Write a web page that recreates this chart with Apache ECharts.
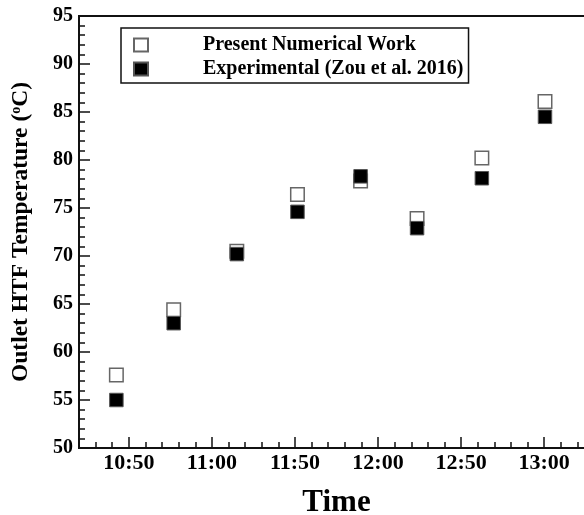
<!DOCTYPE html>
<html><head><meta charset="utf-8">
<script src="https://cdn.jsdelivr.net/npm/echarts@6/dist/echarts.min.js"></script>
<style>html,body{margin:0;padding:0;background:#fff}#c{width:584px;height:515px}</style>
</head><body><div id="c"></div>
<script>
// Tick labels of the time axis (major ticks at positions 1..6)
var timeLabels = ['10:50', '11:00', '11:50', '12:00', '12:50', '13:00'];
// Horizontal position of each measurement, in units of the major tick index
var xPositions = [0.85, 1.54, 2.30, 3.03, 3.79, 4.47, 5.25, 6.01];
// Outlet HTF temperature (°C)
var numerical = [57.6, 64.4, 70.5, 76.4, 77.8, 73.9, 80.2, 86.1];
var experimental = [55.0, 63.0, 70.2, 74.6, 78.3, 72.9, 78.1, 84.5];
var seriesNames = ['Present Numerical Work', 'Experimental (Zou et al. 2016)'];

var FONT = '"Liberation Serif", "Times New Roman", serif';
var AX = '#111';
var xMin = 0.4, xMax = 6.6;
var GW = 515, GH = 432;
var majorVals = timeLabels.map(function (_, i) { return i + 1; });
var minorVals = [];
for (var k = 0; k <= 31; k++) minorVals.push(+(xMin + k * 0.2).toFixed(2));

function pairs(xs, ys) { return xs.map(function (x, i) { return [x, ys[i]]; }); }

var chart = echarts.init(document.getElementById('c'), null, { renderer: 'canvas' });
chart.setOption({
  animation: false,
  backgroundColor: '#fff',
  grid: {
    left: 79, top: 16, width: GW, height: GH,
    outerBoundsMode: 'none', containLabel: false,
    show: true, borderColor: AX, borderWidth: 2, backgroundColor: 'transparent'
  },
  legend: {
    orient: 'vertical', left: 121, top: 28,
    padding: [7, 5, 4, 12], itemGap: 4,
    itemWidth: 14, itemHeight: 13,
    borderColor: '#111', borderWidth: 1.5,
    selectedMode: false,
    textStyle: { fontFamily: FONT, fontWeight: 'bold', fontSize: 20, color: '#000', lineHeight: 20, padding: [0, 0, 0, 50] },
    data: seriesNames
  },
  xAxis: [{
    type: 'value', min: xMin, max: xMax,
    name: 'Time', nameLocation: 'middle', nameGap: 39,
    nameTextStyle: { fontFamily: FONT, fontWeight: 'bold', fontSize: 31, color: '#000' },
    axisLine: { show: true, onZero: false, lineStyle: { color: AX, width: 2 } },
    axisTick: { show: false },
    axisLabel: {
      show: true, customValues: majorVals, margin: 4,
      fontFamily: FONT, fontWeight: 'bold', fontSize: 22, color: '#000',
      formatter: function (v) { return timeLabels[Math.round(v) - 1] || ''; }
    },
    splitLine: { show: false }
  }, {
    // major ticks pointing up into the plot: a top axis moved down onto the bottom edge
    type: 'value', min: xMin, max: xMax, position: 'top', offset: -GH,
    axisLine: { show: false, onZero: false },
    axisTick: { show: true, length: 11, customValues: majorVals, lineStyle: { color: AX, width: 1.5 } },
    axisLabel: { show: false },
    splitLine: { show: false }
  }, {
    type: 'value', min: xMin, max: xMax, position: 'top', offset: -GH,
    axisLine: { show: false, onZero: false },
    axisTick: { show: true, length: 6, customValues: minorVals, lineStyle: { color: AX, width: 1.5 } },
    axisLabel: { show: false },
    splitLine: { show: false }
  }],
  yAxis: [{
    type: 'value', min: 50, max: 95, interval: 5,
    name: 'Outlet HTF Temperature ({sup|o}C)', nameLocation: 'middle', nameGap: 46, nameRotate: 90,
    nameTextStyle: {
      fontFamily: FONT, fontWeight: 'bold', fontSize: 23.5, color: '#000',
      rich: { sup: { fontFamily: FONT, fontWeight: 'bold', fontSize: 14, color: '#000', verticalAlign: 'top', padding: [0, 0, 9, 0] } }
    },
    axisLine: { show: true, onZero: false, lineStyle: { color: AX, width: 2 } },
    axisTick: { show: false },
    axisLabel: { margin: 6, fontFamily: FONT, fontWeight: 'bold', fontSize: 20, color: '#000' },
    splitLine: { show: false }
  }, {
    // ticks pointing right into the plot: a right axis moved onto the left edge
    type: 'value', min: 50, max: 95, interval: 5, position: 'right', offset: -GW,
    axisLine: { show: false, onZero: false },
    axisTick: { show: true, length: 11, lineStyle: { color: AX, width: 1.5 } },
    minorTick: { show: true, splitNumber: 5, length: 6, lineStyle: { color: AX, width: 1.5 } },
    axisLabel: { show: false },
    splitLine: { show: false }
  }],
  series: [{
    name: seriesNames[0], type: 'scatter', symbol: 'rect', symbolSize: 13.5,
    xAxisIndex: 0, yAxisIndex: 0,
    itemStyle: { color: '#fff', borderColor: '#666', borderWidth: 1.5, opacity: 1 },
    data: pairs(xPositions, numerical), z: 2
  }, {
    name: seriesNames[1], type: 'scatter', symbol: 'rect', symbolSize: 13.5,
    xAxisIndex: 0, yAxisIndex: 0,
    itemStyle: { color: '#000', borderColor: '#555', borderWidth: 1, opacity: 1 },
    data: pairs(xPositions, experimental), z: 3
  }]
});
</script></body></html>
